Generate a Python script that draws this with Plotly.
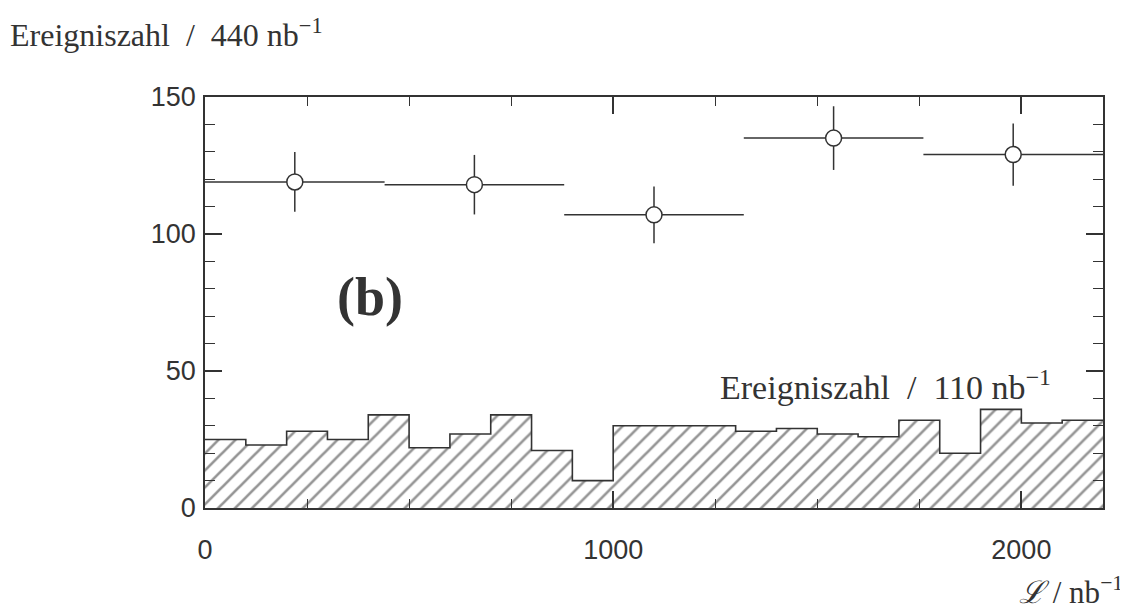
import numpy as np
import plotly.graph_objects as go

# Histogram: events per luminosity bin (bins of 100 on the x scale, 0..2200)
hist_edges = list(range(0, 2300, 100))
hist_counts = [25, 23, 28, 25, 34, 22, 27, 34, 21, 10, 30,
               30, 30, 28, 29, 27, 26, 32, 20, 36, 31, 32]

# Points: events per 440 nb^-1
pt_centers = [220, 660, 1100, 1540, 1980]
pt_halfwidth = [220, 220, 220, 220, 220]
pt_counts = [119, 118, 107, 135, 129]

ink = "#333333"

hist_centers = [(a + b) / 2 for a, b in zip(hist_edges[:-1], hist_edges[1:])]
hist_widths = [b - a for a, b in zip(hist_edges[:-1], hist_edges[1:])]

fig = go.Figure()

fig.add_trace(go.Bar(
    x=hist_centers, y=hist_counts, width=hist_widths,
    marker=dict(color="white", line=dict(width=0),
                pattern=dict(shape="/", fgcolor="#2a2a2a", bgcolor="white",
                             size=12, solidity=0.22)),
    showlegend=False, hoverinfo="skip",
))

# step outline of histogram
fig.add_trace(go.Scatter(
    x=hist_edges, y=hist_counts + [hist_counts[-1]],
    mode="lines", line=dict(shape="hv", color=ink, width=1.6),
    showlegend=False, hoverinfo="skip",
))

fig.add_trace(go.Scatter(
    x=pt_centers, y=pt_counts, mode="markers",
    marker=dict(symbol="circle", size=16, color="white",
                line=dict(color=ink, width=1.5)),
    error_y=dict(type="data", array=list(np.sqrt(pt_counts)), width=0,
                 thickness=1.5, color=ink),
    error_x=dict(type="data", array=pt_halfwidth, width=0,
                 thickness=1.5, color=ink),
    showlegend=False,
))

serif = "Liberation Serif"
sans = "Liberation Sans"

fig.update_layout(
    width=1120, height=602,
    margin=dict(l=197, r=25, t=89, b=102),
    paper_bgcolor="white", plot_bgcolor="white",
    bargap=0,
    xaxis=dict(range=[0, 2200], showgrid=False, zeroline=False,
               showline=True, linecolor=ink, linewidth=1.6, mirror="ticks",
               ticks="inside", ticklen=17, tickwidth=1.5, tickcolor=ink,
               tick0=0, dtick=1000,
               minor=dict(ticks="inside", ticklen=9, tickwidth=1.3,
                          tickcolor=ink, dtick=250, showgrid=False),
               tickfont=dict(family=sans, size=27, color="#333"),
               ticklabelstandoff=17),
    yaxis=dict(range=[0, 150], showgrid=False, zeroline=False,
               showline=True, linecolor=ink, linewidth=1.6, mirror="ticks",
               ticks="inside", ticklen=17, tickwidth=1.5, tickcolor=ink,
               tick0=0, dtick=50,
               minor=dict(ticks="inside", ticklen=10, tickwidth=1.3,
                          tickcolor=ink, dtick=10, showgrid=False),
               tickfont=dict(family=sans, size=27, color="#333"),
               ticklabelstandoff=2),
    annotations=[
        dict(text="Ereigniszahl  /  440 nb<sup>−1</sup>", xref="paper", yref="paper",
             x=-0.219, y=1.155, xanchor="left", yanchor="middle", showarrow=False,
             font=dict(family=serif, size=32, color="#333")),
        dict(text="Ereigniszahl  /  110 nb<sup>−1</sup>", xref="x", yref="y",
             x=1257, y=45, xanchor="left", yanchor="middle", showarrow=False,
             font=dict(family=serif, size=34, color="#333")),
        dict(text="<b>(b)</b>", xref="x", yref="y",
             x=403, y=77, xanchor="center", yanchor="middle", showarrow=False,
             font=dict(family=serif, size=54, color="#333")),
        dict(text="<i>ℒ</i> / nb<sup>−1</sup>", xref="paper", yref="paper",
             x=1.025, y=-0.2, xanchor="right", yanchor="middle", showarrow=False,
             font=dict(family=serif, size=31, color="#333")),
    ],
)

fig.write_html("out.html")
